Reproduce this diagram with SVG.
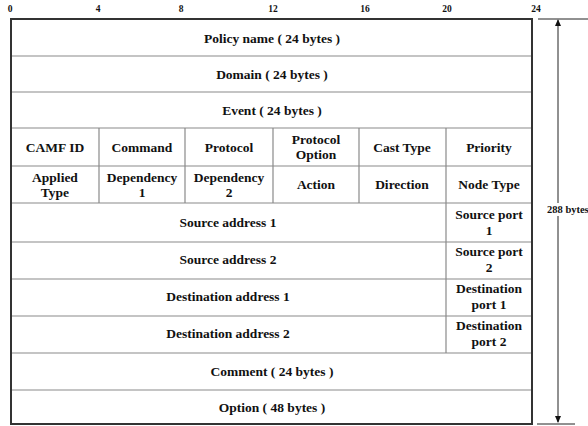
<svg xmlns="http://www.w3.org/2000/svg" width="588" height="426" viewBox="0 0 588 426">
<style>
text{font-family:"Liberation Serif","Times New Roman",serif;font-weight:bold;fill:#111;text-anchor:middle}
.t{font-size:13.5px}
.s{font-size:9.5px}
.g{stroke:#8a8a8a;stroke-width:1.2;fill:none}
.k{stroke:#222;stroke-width:1;fill:none}
</style>
<defs>
<marker id="ah" viewBox="0 0 8 8" refX="7" refY="4" markerWidth="7" markerHeight="7" orient="auto-start-reverse" markerUnits="userSpaceOnUse">
<path d="M0,0.5 L8,4 L0,7.5 Z" fill="#111"/>
</marker>
</defs>
<rect width="588" height="426" fill="#fff"/>
<g id="scale">
<text class="s" x="10" y="12">0</text>
<text class="s" x="98" y="12">4</text>
<text class="s" x="181" y="12">8</text>
<text class="s" x="273" y="12">12</text>
<text class="s" x="365" y="12">16</text>
<text class="s" x="447" y="12">20</text>
<text class="s" x="536" y="12">24</text>
</g>
<g id="grid">
<path class="g" d="M11,56H532M11,92H532M11,128H532M11,166H532M11,203H532M11,242H532M11,279H532M11,316H532M11,353H532M11,390H532"/>
<path class="g" d="M99,128V203M185,128V203M273,128V203M359,128V203M446,128V353"/>
<rect x="11" y="19" width="521" height="405" fill="none" stroke="#333" stroke-width="2"/>
</g>
<g id="rows">
<text class="t" x="272" y="43">Policy name ( 24 bytes )</text>
<text class="t" x="272" y="79">Domain ( 24 bytes )</text>
<text class="t" x="272" y="115">Event ( 24 bytes )</text>
<text class="t" x="55" y="152">CAMF ID</text>
<text class="t" x="142" y="152">Command</text>
<text class="t" x="229" y="152">Protocol</text>
<text class="t" x="316" y="144">Protocol</text>
<text class="t" x="316" y="159">Option</text>
<text class="t" x="402" y="152">Cast Type</text>
<text class="t" x="489" y="152">Priority</text>
<text class="t" x="55" y="182">Applied</text>
<text class="t" x="55" y="197">Type</text>
<text class="t" x="142" y="182">Dependency</text>
<text class="t" x="142" y="197">1</text>
<text class="t" x="229" y="182">Dependency</text>
<text class="t" x="229" y="197">2</text>
<text class="t" x="316" y="189">Action</text>
<text class="t" x="402" y="189">Direction</text>
<text class="t" x="489" y="189">Node Type</text>
<text class="t" x="228" y="227">Source address 1</text>
<text class="t" x="489" y="219">Source port</text>
<text class="t" x="489" y="235">1</text>
<text class="t" x="228" y="264">Source address 2</text>
<text class="t" x="489" y="256">Source port</text>
<text class="t" x="489" y="272">2</text>
<text class="t" x="228" y="301">Destination address 1</text>
<text class="t" x="489" y="293">Destination</text>
<text class="t" x="489" y="309">port 1</text>
<text class="t" x="228" y="338">Destination address 2</text>
<text class="t" x="489" y="330">Destination</text>
<text class="t" x="489" y="346">port 2</text>
<text class="t" x="272" y="376">Comment ( 24 bytes )</text>
<text class="t" x="272" y="412">Option ( 48 bytes )</text>
</g>
<g id="connectors">
<path class="k" d="M538,19H588M537,424H575"/>
<path class="k" d="M558,20V422" marker-start="url(#ah)" marker-end="url(#ah)"/>
<rect x="546" y="203" width="42" height="13" fill="#fff"/>
<text class="s" x="547" y="213" style="text-anchor:start;font-size:10.5px">288 bytes</text>
</g>
</svg>
